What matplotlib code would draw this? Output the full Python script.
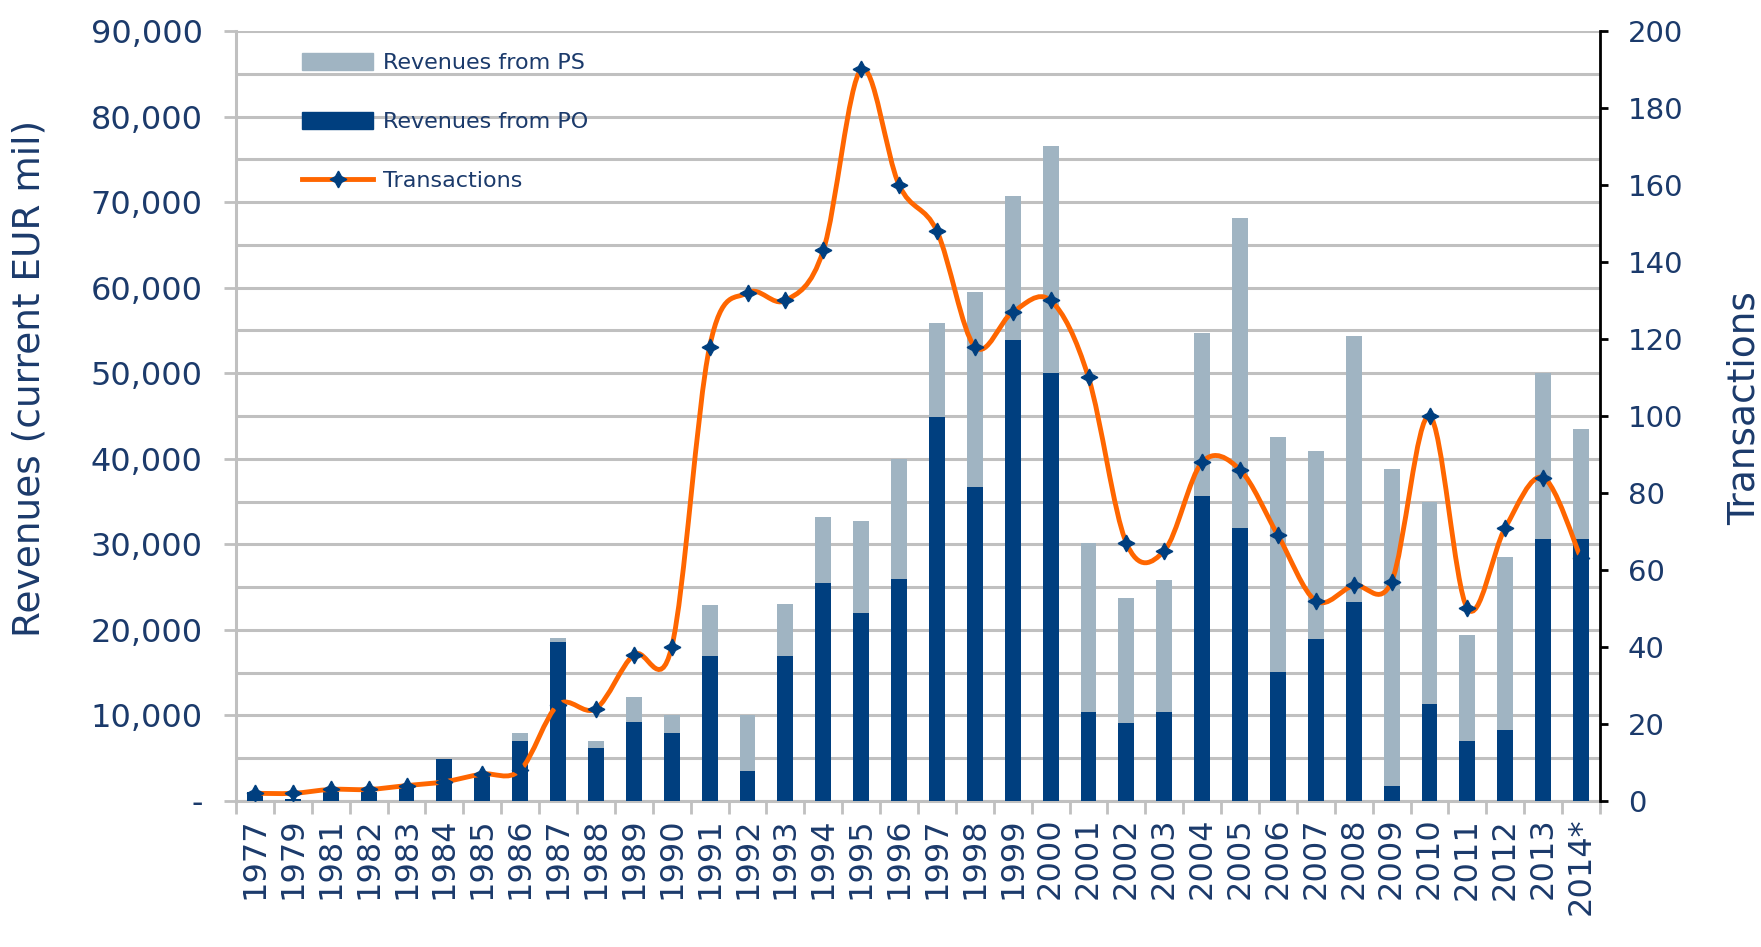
import numpy as np
import matplotlib
matplotlib.use("Agg")
import matplotlib.pyplot as plt
from matplotlib.path import Path
from matplotlib.patches import PathPatch, Patch
from matplotlib.lines import Line2D
from matplotlib.ticker import FuncFormatter, MultipleLocator

# data
years = ["1977", "1979", "1981", "1982", "1983", "1984", "1985", "1986", "1987", "1988",
         "1989", "1990", "1991", "1992", "1993", "1994", "1995", "1996", "1997", "1998",
         "1999", "2000", "2001", "2002", "2003", "2004", "2005", "2006", "2007", "2008",
         "2009", "2010", "2011", "2012", "2013", "2014*"]
rev_po = [1000, 200, 1000, 1000, 1500, 4900, 3200, 7000, 18600, 6200,
          9200, 7900, 16900, 3500, 16900, 25500, 22000, 25900, 44900, 36700,
          53900, 50000, 10400, 9100, 10400, 35700, 31900, 15100, 18900, 23300,
          1800, 11300, 7000, 8300, 30600, 30600]
rev_ps = [0, 0, 0, 0, 0, 0, 0, 900, 400, 800,
          2900, 2100, 6000, 6600, 6100, 7700, 10700, 14100, 11000, 22800,
          16800, 26600, 19700, 14600, 15400, 19000, 36200, 27500, 22000, 31000,
          37000, 23700, 12400, 20200, 19400, 12900]
transactions = [2, 2, 3, 3, 4, 5, 7, 8, 25, 24,
                38, 40, 118, 132, 130, 143, 190, 160, 148, 118,
                127, 130, 110, 67, 65, 88, 86, 69, 52, 56,
                57, 100, 50, 71, 84, 63]

NAVY = "#003F7F"
LIGHT = "#A0B4C2"
ORANGE = "#FF6600"
TXT = "#1B3A6B"
GRID = "#C0C0C0"


def smooth_path(xs, ys):
    # excel style smoothed line: cubic bezier through every point
    pts = np.column_stack([xs, ys]).astype(float)
    n = len(pts)
    verts = [pts[0]]
    codes = [Path.MOVETO]
    for i in range(n - 1):
        p0 = pts[i - 1] if i > 0 else pts[i]
        p1 = pts[i]
        p2 = pts[i + 1]
        p3 = pts[i + 2] if i + 2 < n else pts[i + 1]
        verts += [p1 + (p2 - p0) / 6, p2 - (p3 - p1) / 6, p2]
        codes += [Path.CURVE4] * 3
    return Path(verts, codes)


fig = plt.figure(figsize=(17.61, 9.47), dpi=100)
ax = fig.add_axes([236 / 1761, 1 - 801 / 947, (1600 - 236) / 1761, (801 - 31) / 947])
ax2 = ax.twinx()

x = np.arange(len(years))
ax.bar(x, rev_po, width=0.42, color=NAVY, zorder=3)
ax.bar(x, rev_ps, width=0.42, bottom=rev_po, color=LIGHT, zorder=3)

ax.set_xlim(-0.5, len(years) - 0.5)
ax.set_ylim(0, 90000)
ax.yaxis.set_major_locator(MultipleLocator(10000))
ax.yaxis.set_minor_locator(MultipleLocator(5000))
ax.yaxis.set_major_formatter(FuncFormatter(lambda v, p: "-" if v == 0 else f"{int(v):,}"))
ax.grid(axis="y", which="both", color=GRID, lw=2.2, zorder=0)
ax.set_axisbelow(True)

ax.set_xticks(x)
ax.set_xticklabels(years, rotation=90, fontsize=23, color=TXT)
ax.set_xticks(np.arange(len(years) + 1) - 0.5, minor=True)
ax.tick_params(axis="x", which="major", length=0, pad=12)
ax.tick_params(axis="x", which="minor", length=9, width=2, color=GRID)
ax.tick_params(axis="y", which="major", labelsize=23, labelcolor=TXT, length=9,
               width=2, color=GRID, pad=15)
ax.tick_params(axis="y", which="minor", length=0)

for s in ["top", "right"]:
    ax.spines[s].set_visible(False)
for s in ["left", "bottom"]:
    ax.spines[s].set_color(GRID)
    ax.spines[s].set_linewidth(2.2)

ax2.set_ylim(0, 200)
ax2.yaxis.set_major_locator(MultipleLocator(20))
ax2.tick_params(axis="y", labelsize=21, labelcolor=TXT, length=6, width=2,
                color="black", pad=14)
ax2.spines["right"].set_color("black")
ax2.spines["right"].set_linewidth(2)
for s in ["top", "left", "bottom"]:
    ax2.spines[s].set_visible(False)

ax2.add_patch(PathPatch(smooth_path(x, transactions), fill=False,
                        edgecolor=ORANGE, lw=3.5, zorder=4))
ax2.plot(x, transactions, ls="none", marker=(4, 1, 0), ms=12,
         color=NAVY, zorder=5)

fig.text(30 / 1761, 1 - 378 / 947, "Revenues (current EUR mil)", rotation=90,
         ha="center", va="center", fontsize=27, color=TXT)
fig.text(1745 / 1761, 1 - 408 / 947, "Transactions", rotation=90,
         ha="center", va="center", fontsize=27, color=TXT)

handles = [Patch(color=LIGHT), Patch(color=NAVY),
           Line2D([], [], color=ORANGE, lw=3.5, marker=(4, 1, 0), ms=12,
                  markerfacecolor=NAVY, markeredgecolor=NAVY)]
labels = ["Revenues from PS", "Revenues from PO", "Transactions"]
ax2.legend(handles, labels, loc="upper left", bbox_to_anchor=(0.034, 0.998),
           frameon=False, fontsize=16, labelcolor=TXT, handlelength=3.2,
           handleheight=0.8, labelspacing=1.75, handletextpad=0.45)

fig.savefig("out.png", dpi=100)
